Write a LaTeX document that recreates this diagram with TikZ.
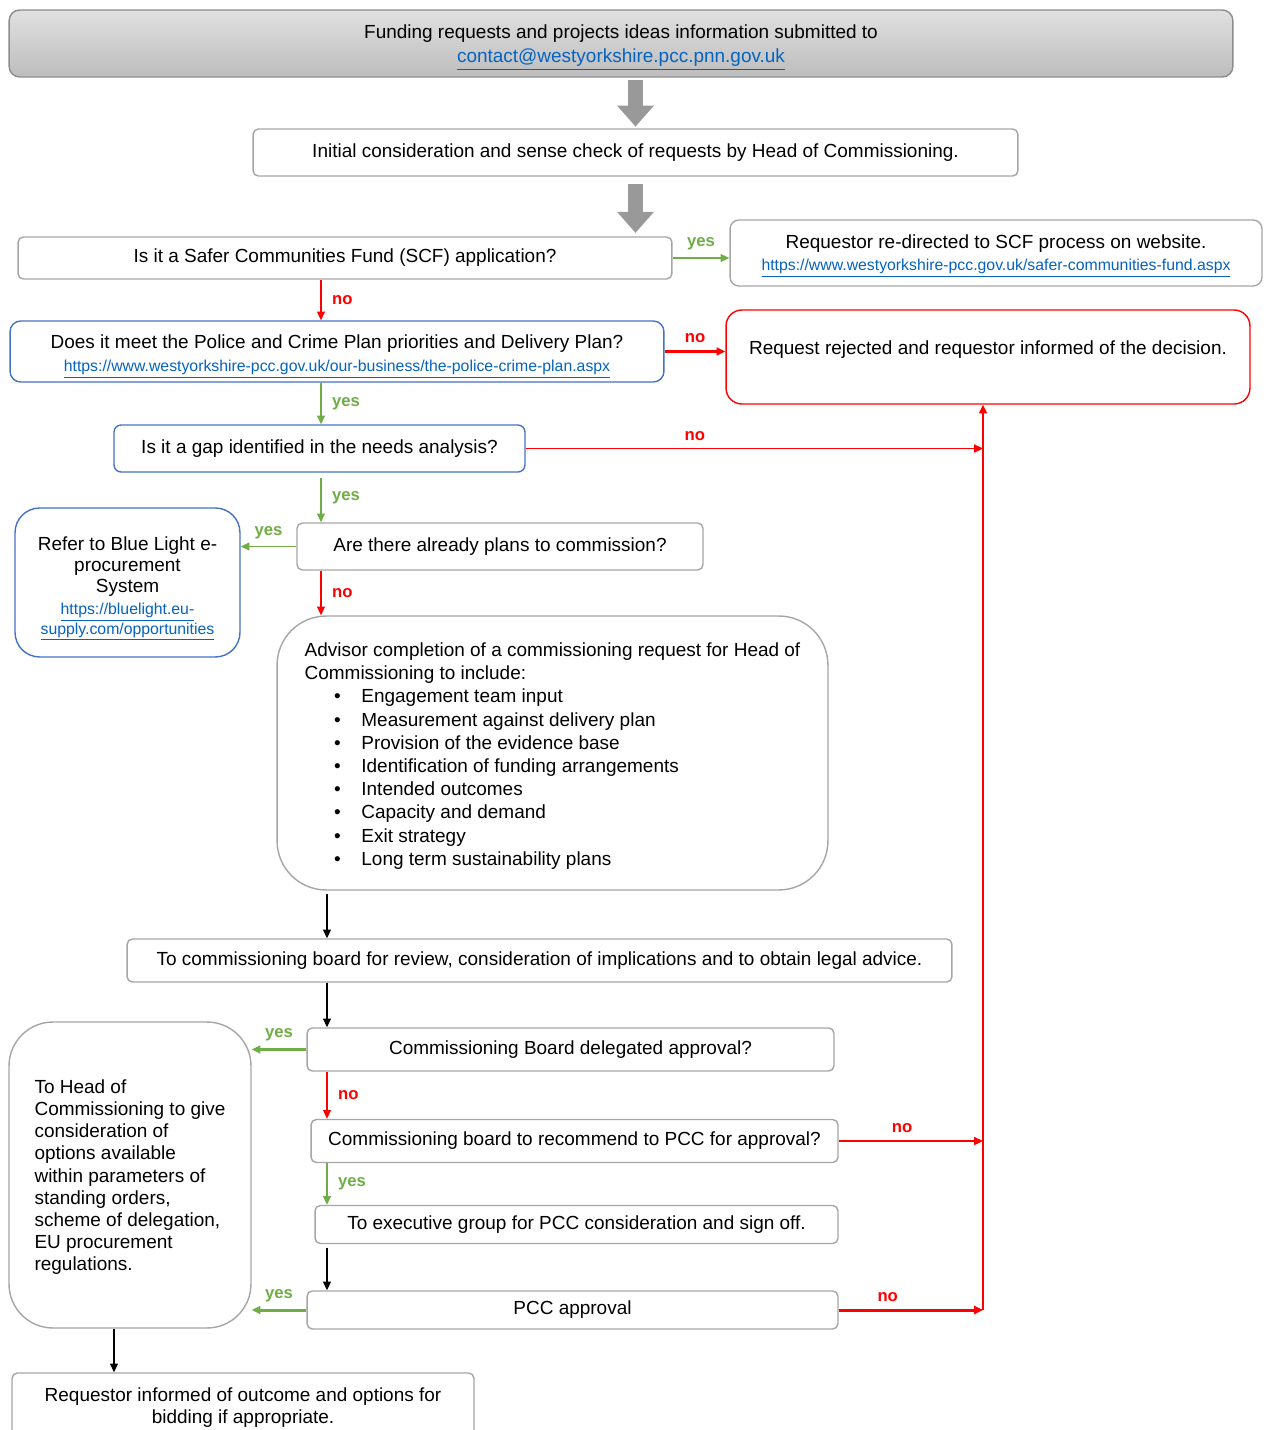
\documentclass[tikz,border=0pt]{standalone}
\usepackage{fontspec}
\setmainfont{Liberation Sans}
\usetikzlibrary{arrows.meta}

\definecolor{linkblue}{HTML}{0563C1}
\definecolor{boxblue}{HTML}{4472C4}
\definecolor{yesgreen}{HTML}{70AD47}
\definecolor{nored}{HTML}{FF0000}
\newcommand{\weblink}[1]{{\fontsize{9}{11}\selectfont\textcolor{linkblue}{\underline{#1}}}}
\newcommand{\bulletitem}[1]{\makebox[32.3pt][l]{\hspace{16.8pt}\textbullet}#1}
\newcommand{\toppad}[1]{\rule{0pt}{#1}}

\begin{document}
\begin{tikzpicture}[
    x=0.02cm, y=-0.02cm,
    every node/.style={font=\fontsize{10.8}{12.8}\selectfont},
    box/.style={draw=black!35, line width=0.8pt, fill=white, rounded corners=3pt,
        align=center, inner sep=0pt},
    bluebox/.style={box, draw=boxblue},
    redbox/.style={box, draw=nored},
    yesline/.style={draw=yesgreen, line width=0.7pt, -{Triangle[length=5pt, width=4.5pt]}},
    noline/.style={draw=nored, line width=0.7pt, -{Triangle[length=5pt, width=4.5pt]}},
    flowline/.style={draw=black, line width=0.7pt, -{Triangle[length=5pt, width=4.5pt]}},
    bigarrow/.style={draw=black!40, line width=0.3cm,
        -{Triangle[length=0.42cm, width=0.74cm, line width=0pt]}},
    yeslabel/.style={text=yesgreen, inner sep=1pt, font=\fontsize{9.5}{11}\selectfont\bfseries},
    nolabel/.style={text=nored, inner sep=1pt, font=\fontsize{9.5}{11}\selectfont\bfseries}
]
    \fill[white] (0,0) rectangle (1264,1430);
    \useasboundingbox (0,0) rectangle (1264,1430);
    \coordinate (spine) at (321,0);
    \coordinate (spinelow) at (327,0);
    \coordinate (rail) at (983,0);
    \coordinate (leftspine) at (114,0);

    \node[box, draw=black!45, top color=black!12, bottom color=black!26, rounded corners=6pt,
        minimum width=24.48cm, minimum height=1.34cm] (top) at (621,43.5)
        {\toppad{12.5pt}Funding requests and projects ideas information submitted to\\[1pt]
        \textcolor{linkblue}{\underline{contact@westyorkshire.pcc.pnn.gov.uk}}};
    \node[box, minimum width=15.3cm, minimum height=0.94cm] (init) at (635.5,152.5)
        {Initial consideration and sense check of requests by Head of Commissioning.};
    \node[box, minimum width=13.08cm, minimum height=0.84cm] (scf) at (345,258)
        {Is it a Safer Communities Fund (SCF) application?};
    \node[box, rounded corners=5pt, minimum width=10.64cm, minimum height=1.32cm] (redir) at (996,253)
        {\toppad{11.3pt}Requestor re-directed to SCF process on website.\\
        \weblink{https://www.westyorkshire-pcc.gov.uk/safer-communities-fund.aspx}};
    \node[bluebox, rounded corners=6pt, minimum width=13.08cm, minimum height=1.22cm] (police) at (337,351.5)
        {\toppad{13.5pt}Does it meet the Police and Crime Plan priorities and Delivery Plan?\\
        \weblink{https://www.westyorkshire-pcc.gov.uk/our-business/the-police-crime-plan.aspx}};
    \node[redbox, rounded corners=9pt, text depth=10.2pt, minimum width=10.48cm, minimum height=1.88cm] (reject) at (988,357)
        {Request rejected and requestor informed of the decision.};
    \node[bluebox, rounded corners=4pt, minimum width=8.22cm, minimum height=0.94cm] (gap) at (319.5,448.5)
        {Is it a gap identified in the needs analysis?};
    \node[box, minimum width=8.12cm, minimum height=0.94cm] (plans) at (500,546.5)
        {Are there already plans to commission?};
    \node[bluebox, rounded corners=14pt, minimum width=4.5cm, minimum height=2.98cm,
        font=\fontsize{10.8}{12.2}\selectfont] (bluelight) at (127.5,582.5)
        {\toppad{14.7pt}Refer to Blue Light e-\\procurement\\System\\
        \weblink{https://bluelight.eu-}\\[-1pt]\weblink{supply.com/opportunities}};
    \node[box, rounded corners=28pt, align=left, minimum width=11.02cm, minimum height=5.48cm,
        font=\fontsize{10.8}{13.2}\selectfont] (advisor) at (552.5,753)
        {\toppad{11.3pt}Advisor completion of a commissioning request for Head of\\
        Commissioning to include:\\
        \bulletitem{Engagement team input}\\
        \bulletitem{Measurement against delivery plan}\\
        \bulletitem{Provision of the evidence base}\\
        \bulletitem{Identification of funding arrangements}\\
        \bulletitem{Intended outcomes}\\
        \bulletitem{Capacity and demand}\\
        \bulletitem{Exit strategy}\\
        \bulletitem{Long term sustainability plans}};
    \node[box, minimum width=16.5cm, minimum height=0.86cm] (board) at (539.5,960.5)
        {To commissioning board for review, consideration of implications and to obtain legal advice.};
    \node[box, minimum width=10.54cm, minimum height=0.86cm] (deleg) at (570.5,1049.5)
        {Commissioning Board delegated approval?};
    \node[box, rounded corners=25pt, align=left, minimum width=4.84cm, minimum height=6.12cm,
        font=\fontsize{10.8}{12.6}\selectfont] (head) at (130,1175)
        {\toppad{10.2pt}To Head of\\Commissioning to give\\consideration of\\options available\\
        within parameters of\\standing orders,\\scheme of delegation,\\EU procurement\\regulations.};
    \node[box, minimum width=10.54cm, minimum height=0.86cm] (rec) at (574.5,1141)
        {Commissioning board to recommend to PCC for approval?};
    \node[box, minimum width=10.46cm, minimum height=0.76cm] (exec) at (576.5,1224.5)
        {To executive group for PCC consideration and sign off.};
    \node[box, minimum width=10.62cm, minimum height=0.76cm] (pcc) at (572.5,1310)
        {PCC approval};
    \node[box, minimum width=9.24cm, minimum height=1.28cm] (final) at (243,1405)
        {\toppad{10.7pt}Requestor informed of outcome and options for\\bidding if appropriate.};

    \draw[bigarrow, shorten <=1.5pt, shorten >=1pt] (init.north |- top.south) -- (init.north);
    \draw[bigarrow, shorten <=4pt, shorten >=2pt] (init.south) -- (init.south |- scf.north);
    \draw[yesline] (scf.east) -- node[yeslabel, above=3pt] {yes} (scf.east -| redir.west);
    \draw[noline] (scf.south -| spine) -- node[nolabel, right=5pt] {no} (police.north -| spine);
    \draw[noline, line width=1.7pt] (police.east) -- node[nolabel, above=3pt] {no} (police.east -| reject.west);
    \draw[yesline] (police.south -| spine) -- node[yeslabel, right=5pt] {yes} (gap.north -| spine);
    \draw[noline, line width=1pt] (gap.east) -- node[nolabel, above=3pt, pos=.37] {no} (gap.east -| rail);
    \draw[yesline, shorten <=3pt] (gap.south -| spine) -- node[yeslabel, right=5pt] {yes} (plans.north -| spine);
    \draw[yesline] (plans.west) -- node[yeslabel, above=3pt] {yes} (plans.west -| bluelight.east);
    \draw[noline] (plans.south -| spine) -- node[nolabel, right=5pt] {no} (advisor.north -| spine);
    \draw[flowline, shorten <=2pt] (advisor.south -| spinelow) -- (board.north -| spinelow);
    \draw[flowline] (board.south -| spinelow) -- (deleg.north -| spinelow);
    \draw[yesline, line width=1.7pt] (deleg.west) -- node[yeslabel, above=3pt] {yes} (deleg.west -| head.east);
    \draw[noline] (deleg.south -| spinelow) -- node[nolabel, right=5pt] {no} (rec.north -| spinelow);
    \draw[noline, line width=1pt] (rec.east) -- node[nolabel, above=3pt, pos=.44] {no} (rec.east -| rail);
    \draw[yesline] (rec.south -| spinelow) -- node[yeslabel, right=5pt] {yes} (exec.north -| spinelow);
    \draw[flowline, shorten <=2pt] (exec.south -| spinelow) -- (pcc.north -| spinelow);
    \draw[yesline, line width=1.7pt] (pcc.west) -- node[yeslabel, above=3pt] {yes} (pcc.west -| head.east);
    \draw[noline, line width=1.7pt] (pcc.east) -- node[nolabel, above=3pt, pos=.34] {no} (pcc.east -| rail);
    \draw[noline, line width=1.2pt] (pcc.east -| rail) -- (reject.south -| rail);
    \draw[flowline] (head.south -| leftspine) -- (final.north -| leftspine);
\end{tikzpicture}
\end{document}
